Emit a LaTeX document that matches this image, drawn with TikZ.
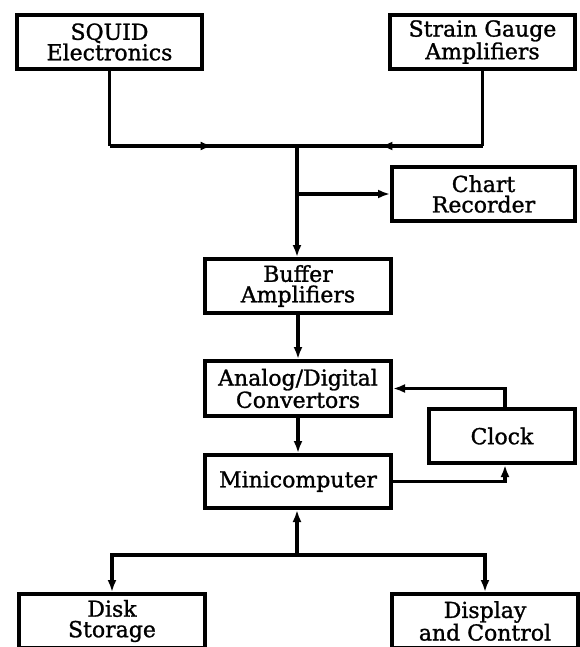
\documentclass[tikz,border=0pt]{standalone}
\usepackage{fontspec}
\setmainfont{DejaVu Serif}[FakeBold=1.2]
\usetikzlibrary{arrows.meta,decorations.markings,calc}
\tikzset{
  blk/.style={draw, line width=4pt, rectangle, align=center, inner sep=0pt,
    font=\fontsize{22}{20.5}\selectfont},
  conn/.style={line width=3.5pt, line join=miter},
  tip/.style={-{Latex[length=12pt,width=9pt]}},
  midtip/.style={postaction={decorate, decoration={markings,
    mark=at position 0.55 with {\arrow{Latex[length=12pt,width=9pt]}}}}}
}
\begin{document}
\begin{tikzpicture}[x=1pt,y=-1pt]
\useasboundingbox (0,0) rectangle (579,647);
\node[blk, minimum width=185pt, minimum height=54pt] (squid) at (109.5,42) {SQUID\\Electronics};
\node[blk, minimum width=185pt, minimum height=54pt] (strain) at (482.5,42) {Strain Gauge\\Amplifiers};
\node[blk, minimum width=183pt, minimum height=54pt] (chart) at (483.5,194) {Chart\\Recorder};
\node[blk, minimum width=186pt, minimum height=54pt] (buffer) at (298,286) {Buffer\\Amplifiers};
\node[blk, minimum width=186pt, minimum height=55pt] (ad) at (298,388.5) {Analog/Digital\\Convertors};
\node[blk, minimum width=146pt, minimum height=54pt] (clock) at (502,436) {Clock};
\node[blk, minimum width=186pt, minimum height=53pt] (mini) at (298,481.5) {Minicomputer};
\node[blk, minimum width=186pt, minimum height=54pt] (disk) at (112,621) {Disk\\Storage};
\node[blk, minimum width=186pt, minimum height=54pt] (display) at (485,621) {Display\\and Control};

\coordinate (j1) at (297,146);
\coordinate (b) at (297,555);
\coordinate (ck1) at ($(clock.north)+(3,0)$);
\coordinate (ck2) at ($(clock.south)+(3,0)$);

\draw[conn] (squid.south) -- (squid.south |- j1);
\draw[conn, midtip] (squid.south |- j1) -- (j1);
\draw[conn] (strain.south) -- (strain.south |- j1);
\draw[conn, midtip] (strain.south |- j1) -- (j1);
\draw[conn, tip] (j1) -- (j1 |- buffer.north);
\draw[conn, tip] (chart.west -| j1) -- (chart.west);
\draw[conn, tip] (buffer.south) -- (ad.north);
\draw[conn, tip] (ad.south) -- (mini.north);
\draw[conn, tip] (ck1) |- (ad.east);
\draw[conn, tip] (mini.east) -| (ck2);
\draw[conn, tip] (b) -- (b |- mini.south);
\draw[conn, tip] (b) -| (disk.north);
\draw[conn, tip] (b) -| (display.north);
\end{tikzpicture}
\end{document}
